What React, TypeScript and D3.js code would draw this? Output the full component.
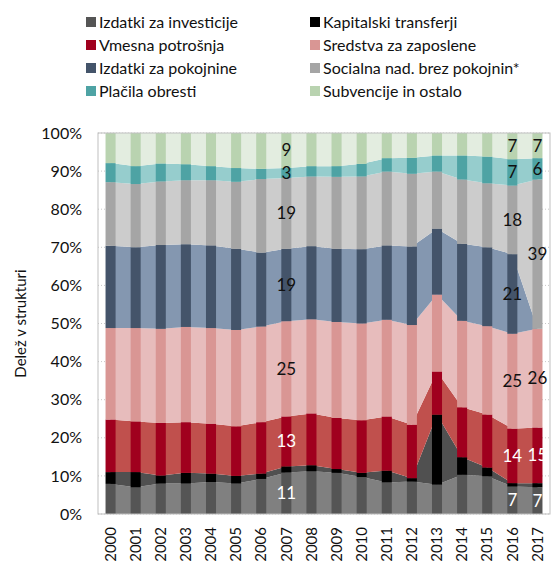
import * as React from "react";
import * as d3 from "d3";

const years = ["2000", "2001", "2002", "2003", "2004", "2005", "2006", "2007", "2008", "2009", "2010", "2011", "2012", "2013", "2014", "2015", "2016", "2017"];

const investicije = [7.9, 7.0, 8.0, 8.0, 8.4, 8.0, 9.2, 10.9, 11.2, 10.8, 9.7, 8.3, 8.5, 7.7, 10.3, 9.9, 7.2, 7.0];
const kapitalski = [3.1, 4.0, 2.1, 2.8, 2.2, 2.0, 1.4, 1.6, 1.6, 1.0, 1.1, 3.1, 0.9, 18.4, 4.6, 2.3, 0.9, 1.1];
const vmesna = [13.8, 13.3, 13.8, 13.3, 13.1, 13.0, 13.5, 13.1, 13.6, 13.4, 13.8, 14.2, 14.0, 11.3, 13.1, 13.9, 14.3, 14.6];
const sredstva = [24.0, 24.5, 24.7, 25.0, 25.1, 25.3, 25.1, 25.0, 24.7, 25.2, 25.4, 25.4, 26.2, 20.2, 22.7, 23.2, 24.9, 25.9];
const pokojnine = [21.6, 21.2, 22.0, 21.7, 21.7, 21.3, 19.4, 19.0, 19.2, 19.2, 19.5, 19.5, 20.6, 17.3, 20.2, 20.7, 20.9, 0];
const socialna = [16.7, 16.6, 16.7, 16.8, 17.1, 17.6, 19.3, 18.6, 18.3, 18.9, 19.1, 19.4, 19.1, 15.0, 16.9, 16.8, 18.0, 39.2];
const obresti = [5.0, 4.7, 4.7, 4.2, 3.7, 3.6, 2.7, 2.6, 2.7, 2.8, 3.3, 3.5, 4.2, 4.2, 6.3, 7.0, 6.9, 5.6];
const subvencije = [7.9, 8.7, 8.0, 8.2, 8.7, 9.2, 9.4, 9.2, 8.7, 8.7, 8.1, 6.6, 6.5, 5.9, 5.9, 6.2, 6.9, 6.6];

const keys = ["inv", "kap", "vm", "sr", "pok", "soc", "obr", "sub"];
const names = ["Izdatki za investicije", "Kapitalski transferji", "Vmesna potrošnja", "Sredstva za zaposlene", "Izdatki za pokojnine", "Socialna nad. brez pokojnin*", "Plačila obresti", "Subvencije in ostalo"];
const barColors = ["#555555", "#000000", "#a0001e", "#d99694", "#44546a", "#a5a5a5", "#4ea3a4", "#b9d3b0"];
const areaColors = ["#808080", "#505050", "#c0504d", "#e7bcbc", "#8497b0", "#cccccc", "#96cdcd", "#e3ede0"];
const labelColors = ["#ffffff", "#ffffff", "#ffffff", "#111111", "#111111", "#111111", "#111111", "#111111"];
const labelYears = ["2007", "2016", "2017"];

const font = "Lato, sans-serif";

export default function App() {
  const width = 559;
  const height = 562;
  const left = 98, right = 550, top = 133, bottom = 514;

  const rows = years.map((yr, i) => ({
    year: yr,
    inv: investicije[i], kap: kapitalski[i], vm: vmesna[i], sr: sredstva[i],
    pok: pokojnine[i], soc: socialna[i], obr: obresti[i], sub: subvencije[i],
  }));

  const stacked = d3.stack().keys(keys).offset(d3.stackOffsetExpand)(rows as any);

  const x = d3.scaleBand().domain(years).range([left, right]);
  const y = d3.scaleLinear().domain([0, 1]).range([bottom, top]);
  const bw = x.bandwidth() * 0.4;
  const cx = (yr) => x(yr) + x.bandwidth() / 2;

  const area = d3.area()
    .x((d) => cx(d.data.year))
    .y0((d) => y(d[0]))
    .y1((d) => y(d[1]));

  const ticks = d3.range(0, 1.0001, 0.1);

  return (
    <div style={{ position: "absolute", left: 0, top: 0 }}>
      <svg width={width} height={height} style={{ display: "block", fontFamily: font }}>
        <rect x={0} y={0} width={width} height={height} fill="#fff" />
        {/* legend */}
        {names.map((n, i) => {
          const col = i % 2, row = Math.floor(i / 2);
          const lx = col === 0 ? 86 : 310;
          const ly = 22 + row * 23;
          return (
            <g key={n}>
              <rect x={lx} y={ly - 5} width={10} height={10} fill={barColors[i]} />
              <text x={lx + 13} y={ly} dy="0.35em" fontSize={16} fill="#111">{n}</text>
            </g>
          );
        })}

        {/* grid */}
        {ticks.map((t) => (
          <line key={"g" + t} x1={left} x2={right} y1={y(t)} y2={y(t)} stroke="#c8c8c8" strokeDasharray="1,2" />
        ))}

        {/* areas between bars */}
        {stacked.map((s, i) => (
          <path key={"a" + s.key} d={area(s)} fill={areaColors[i]} />
        ))}

        {/* bars */}
        {stacked.map((s, i) => (
          <g key={"b" + s.key}>
            {s.map((d) => (
              <rect key={d.data.year} x={cx(d.data.year) - bw / 2} width={bw}
                y={y(d[1])} height={Math.max(0, y(d[0]) - y(d[1]))} fill={barColors[i]} />
            ))}
          </g>
        ))}

        {/* labels */}
        {stacked.map((s, i) => s.key === "kap" ? null : (
          <g key={"l" + s.key}>
            {s.filter((d) => labelYears.includes(d.data.year) && d[1] - d[0] > 0.005).map((d) => (
              <text key={d.data.year} x={cx(d.data.year)} y={y((d[0] + d[1]) / 2)} dy="0.35em"
                textAnchor="middle" fontSize={17} fill={labelColors[i]}>
                {Math.round((d[1] - d[0]) * 100)}
              </text>
            ))}
          </g>
        ))}

        {/* frame */}
        <rect x={left} y={top} width={right - left} height={bottom - top} fill="none" stroke="#bfbfbf" />

        {/* y axis */}
        {ticks.map((t) => (
          <text key={"t" + t} x={82} y={y(t)} dy="0.35em" textAnchor="end" fontSize={16} fill="#111">
            {Math.round(t * 100) + "%"}
          </text>
        ))}
        <text transform={`translate(21,${(top + bottom) / 2}) rotate(-90)`} dy="0.35em" textAnchor="middle" fontSize={15} fill="#111">
          Delež v strukturi
        </text>

        {/* x axis */}
        {years.map((yr) => (
          <text key={"x" + yr} transform={`translate(${cx(yr)},${bottom + 13}) rotate(-90)`} dy="0.35em"
            textAnchor="end" fontSize={15} fill="#111">
            {yr}
          </text>
        ))}
      </svg>
    </div>
  );
}
